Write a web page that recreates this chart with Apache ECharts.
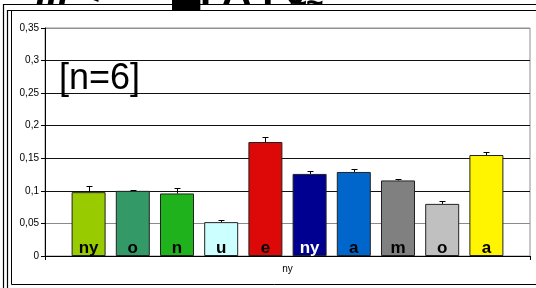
<!DOCTYPE html>
<html>
<head>
<meta charset="UTF-8">
<title>chart</title>
<script src="https://cdn.jsdelivr.net/npm/echarts@6/dist/echarts.min.js"></script>
<style>
html,body{margin:0;padding:0;background:#fff;}
#chart{width:536px;height:288px;}
</style>
</head>
<body>
<div id="chart"></div>
<script>
// data
var categories = ['ny'];
var seriesNames = ['ny', 'o', 'n', 'u', 'e', 'ny', 'a', 'm', 'o', 'a'];
var values = [0.098, 0.100, 0.096, 0.052, 0.175, 0.126, 0.129, 0.116, 0.080, 0.155];
var errors = [0.010, 0.002, 0.009, 0.004, 0.007, 0.005, 0.005, 0.002, 0.005, 0.005];
var colors = ['#99CC00', '#339966', '#20B21C', '#CCFFFF', '#DD0808', '#000090', '#0066CC', '#808080', '#C0C0C0', '#FFF500'];
var labelColors = ['#000', '#000', '#000', '#000', '#000', '#fff', '#000', '#000', '#000', '#000'];
var yTicks = [0, 0.05, 0.1, 0.15, 0.2, 0.25, 0.3, 0.35];

var FONT = 'Arial, "Liberation Sans", sans-serif';
var BAR_W = 34, BAR_GAP = 0.3;

var chart = echarts.init(document.getElementById('chart'), null, {renderer: 'canvas'});

var series = [];
for (var i = 0; i < values.length; i++) {
  series.push({
    name: seriesNames[i],
    type: 'bar',
    data: [values[i]],
    barWidth: BAR_W,
    barGap: (BAR_GAP * 100) + '%',
    itemStyle: {color: colors[i], borderColor: '#222', borderWidth: 1},
    label: {
      show: true,
      position: 'insideBottom',
      distance: -1,
      formatter: '{a}',
      color: labelColors[i],
      fontFamily: FONT,
      fontWeight: 'bold',
      fontSize: 17
    },
    z: 3
  });
}

// error bars (upper half only, the lower half is hidden by the bar)
series.push({
  type: 'custom',
  z: 4,
  data: values.map(function (v, i) { return [0, v, errors[i], i]; }),
  renderItem: function (params, api) {
    var idx = api.value(3);
    var v = api.value(1), e = api.value(2);
    var pitch = BAR_W * (1 + BAR_GAP);
    var base = api.coord([0, v]);
    var top = api.coord([0, v + e]);
    var x = Math.round(base[0] + (idx - (values.length - 1) / 2) * pitch) + 0.5;
    var yb = base[1], yt = Math.round(top[1]) + 0.5;
    return {
      type: 'group',
      children: [
        {type: 'line', shape: {x1: x, y1: yb, x2: x, y2: yt}, style: {stroke: '#000', lineWidth: 1}},
        {type: 'line', shape: {x1: x - 3, y1: yt, x2: x + 3, y2: yt}, style: {stroke: '#000', lineWidth: 1}}
      ]
    };
  }
});

var option = {
  animation: false,
  backgroundColor: '#fff',
  grid: {left: 45, top: 28, right: 6, bottom: 32, show: true, borderColor: '#909090', borderWidth: 1, backgroundColor: 'transparent'},
  xAxis: {
    type: 'category',
    data: categories,
    axisLine: {lineStyle: {color: '#000', width: 1}},
    axisTick: {show: true, length: 4, lineStyle: {color: '#000'}},
    axisLabel: {color: '#000', fontFamily: FONT, fontSize: 10, margin: 8}
  },
  yAxis: {
    type: 'value',
    min: 0,
    max: 0.35,
    interval: 0.05,
    axisLine: {show: true, lineStyle: {color: '#000', width: 1}},
    axisTick: {show: true, length: 4, lineStyle: {color: '#000'}},
    axisLabel: {
      color: '#000', fontFamily: FONT, fontSize: 10, margin: 6,
      formatter: function (v) {
        var t = yTicks.reduce(function (a, b) { return Math.abs(b - v) < Math.abs(a - v) ? b : a; });
        return String(t).replace('.', ',');
      }
    },
    splitLine: {show: true, lineStyle: {color: ['#777', '#8a8a8a', '#111', '#111', '#111', '#111', '#111', '#909090'], width: 1}}
  },
  graphic: [
    // clipped heading at the very top
    {type: 'text', left: 36, top: -27, z: -3,
      style: {text: 'lll', fill: '#000', font: 'italic bold 40px ' + FONT}},
    {type: 'text', left: 80, top: -22, z: -3,
      style: {text: '<', fill: '#000', font: 'bold 34px ' + FONT}},
    {type: 'text', left: 172, top: -27, z: -3,
      style: {text: '\u2588', fill: '#000', font: 'bold 40px ' + FONT}},
    {type: 'text', left: 200, top: -27, z: -3,
      style: {text: 'I A I \u03b8', fill: '#000', font: 'bold 40px ' + FONT}},
    {type: 'text', left: 290, top: -14, z: -3,
      style: {text: '\u2248\u2248', fill: '#000', font: 'bold 30px ' + FONT}},
    // white chart area box covering the heading
    {type: 'rect', z: -2, shape: {x: 11.5, y: 10.5, width: 540, height: 274}, style: {fill: '#fff', stroke: '#000', lineWidth: 1}},
    // double outer frame
    {type: 'polyline', z: -1, shape: {points: [[3.5, 300], [3.5, 4.5], [540, 4.5]]}, style: {stroke: '#000', lineWidth: 1.2, fill: null}},
    {type: 'polyline', z: -1, shape: {points: [[7.5, 300], [7.5, 10.5], [540, 10.5]]}, style: {stroke: '#000', lineWidth: 1.2, fill: null}},
    {type: 'text', left: 59, top: 61, z: 5,
      style: {text: '[n=6]', fill: '#000', font: '36px ' + FONT}}
  ],
  series: series
};
chart.setOption(option);
</script>
</body>
</html>
